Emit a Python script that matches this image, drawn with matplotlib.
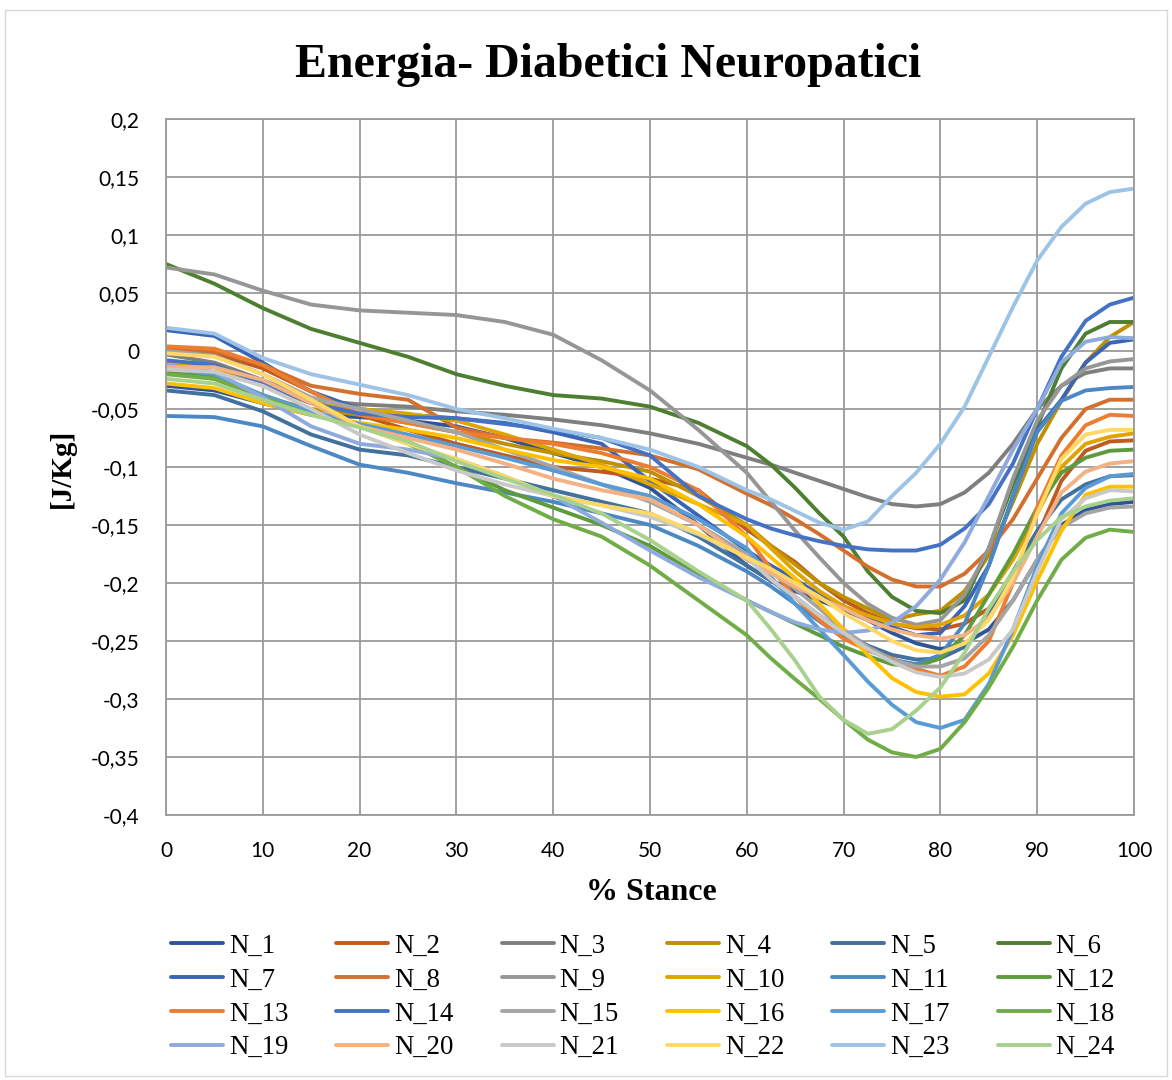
import matplotlib
matplotlib.use("Agg")
import matplotlib.pyplot as plt
from matplotlib.patches import Rectangle
from matplotlib.ticker import FixedLocator

# % of stance at which each curve is sampled
stance = [0, 5, 10, 15, 20, 25, 30, 35, 40, 45, 50, 55, 60,
          62.5, 65, 67.5, 70, 72.5, 75, 77.5, 80, 82.5, 85, 87.5, 90, 92.5, 95, 97.5, 100]

N_1 = [-0.030, -0.034, -0.045, -0.055, -0.057, -0.060, -0.065, -0.075, -0.088, -0.100, -0.118, -0.150, -0.185,
       -0.198, -0.207, -0.215, -0.223, -0.232, -0.243, -0.252, -0.257, -0.252, -0.240, -0.215, -0.180, -0.150, -0.137, -0.132, -0.130]
N_2 = [0.000, -0.002, -0.015, -0.035, -0.055, -0.068, -0.080, -0.090, -0.100, -0.104, -0.110, -0.120, -0.154,
       -0.168, -0.182, -0.200, -0.215, -0.226, -0.235, -0.239, -0.240, -0.235, -0.222, -0.195, -0.160, -0.112, -0.086, -0.078, -0.077]
N_3 = [-0.003, -0.010, -0.025, -0.042, -0.046, -0.048, -0.052, -0.055, -0.059, -0.064, -0.071, -0.080, -0.092,
       -0.098, -0.105, -0.112, -0.119, -0.126, -0.132, -0.134, -0.132, -0.122, -0.105, -0.080, -0.050, -0.030, -0.019, -0.015, -0.015]
N_4 = [-0.018, -0.024, -0.040, -0.050, -0.055, -0.062, -0.070, -0.080, -0.088, -0.095, -0.104, -0.125, -0.150,
       -0.168, -0.184, -0.200, -0.212, -0.222, -0.232, -0.227, -0.224, -0.207, -0.176, -0.130, -0.080, -0.043, -0.010, 0.012, 0.025]
N_5 = [-0.034, -0.038, -0.052, -0.072, -0.085, -0.090, -0.100, -0.110, -0.120, -0.130, -0.140, -0.160, -0.185,
       -0.198, -0.212, -0.228, -0.242, -0.254, -0.262, -0.266, -0.265, -0.255, -0.228, -0.190, -0.155, -0.128, -0.115, -0.108, -0.107]
N_6 = [0.075, 0.058, 0.037, 0.019, 0.007, -0.005, -0.020, -0.030, -0.038, -0.041, -0.048, -0.062, -0.082,
       -0.098, -0.118, -0.140, -0.160, -0.190, -0.212, -0.224, -0.226, -0.215, -0.170, -0.115, -0.065, -0.015, 0.015, 0.025, 0.025]
N_7 = [0.018, 0.013, -0.010, -0.035, -0.050, -0.055, -0.058, -0.062, -0.070, -0.080, -0.112, -0.142, -0.172,
       -0.185, -0.197, -0.210, -0.220, -0.230, -0.238, -0.245, -0.243, -0.220, -0.185, -0.125, -0.068, -0.042, -0.010, 0.007, 0.010]
N_8 = [0.002, 0.000, -0.012, -0.030, -0.037, -0.042, -0.066, -0.075, -0.079, -0.084, -0.090, -0.102, -0.123,
       -0.133, -0.145, -0.158, -0.172, -0.186, -0.197, -0.203, -0.203, -0.192, -0.172, -0.145, -0.110, -0.075, -0.050, -0.042, -0.042]
N_9 = [0.072, 0.066, 0.052, 0.040, 0.035, 0.033, 0.031, 0.025, 0.014, -0.008, -0.034, -0.068, -0.105,
       -0.130, -0.155, -0.178, -0.200, -0.218, -0.230, -0.236, -0.232, -0.210, -0.170, -0.110, -0.060, -0.030, -0.015, -0.009, -0.007]
N_10 = [-0.010, -0.014, -0.030, -0.045, -0.050, -0.054, -0.060, -0.072, -0.085, -0.098, -0.115, -0.132, -0.150,
        -0.170, -0.190, -0.207, -0.220, -0.228, -0.235, -0.238, -0.236, -0.228, -0.210, -0.180, -0.140, -0.100, -0.080, -0.074, -0.071]
N_11 = [-0.056, -0.057, -0.065, -0.082, -0.098, -0.105, -0.114, -0.122, -0.130, -0.140, -0.150, -0.168, -0.190,
        -0.203, -0.218, -0.233, -0.247, -0.258, -0.266, -0.270, -0.262, -0.235, -0.185, -0.126, -0.070, -0.043, -0.034, -0.032, -0.031]
N_12 = [-0.019, -0.022, -0.038, -0.052, -0.065, -0.078, -0.100, -0.120, -0.135, -0.150, -0.168, -0.193, -0.215,
        -0.225, -0.235, -0.245, -0.255, -0.263, -0.270, -0.272, -0.265, -0.245, -0.210, -0.175, -0.135, -0.105, -0.092, -0.086, -0.085]
N_13 = [0.004, 0.002, -0.012, -0.035, -0.055, -0.062, -0.070, -0.075, -0.080, -0.088, -0.100, -0.120, -0.160,
        -0.188, -0.212, -0.232, -0.248, -0.258, -0.265, -0.274, -0.280, -0.272, -0.250, -0.200, -0.135, -0.090, -0.064, -0.055, -0.056]
N_14 = [-0.008, -0.012, -0.028, -0.045, -0.054, -0.057, -0.058, -0.063, -0.068, -0.075, -0.090, -0.125, -0.145,
        -0.153, -0.159, -0.164, -0.168, -0.171, -0.172, -0.172, -0.167, -0.153, -0.132, -0.097, -0.050, -0.005, 0.026, 0.040, 0.046]
N_15 = [0.000, -0.004, -0.020, -0.040, -0.050, -0.060, -0.070, -0.085, -0.100, -0.115, -0.130, -0.150, -0.175,
        -0.190, -0.205, -0.222, -0.240, -0.255, -0.266, -0.272, -0.272, -0.265, -0.245, -0.215, -0.180, -0.152, -0.140, -0.135, -0.134]
N_16 = [-0.028, -0.032, -0.045, -0.055, -0.062, -0.068, -0.075, -0.085, -0.094, -0.100, -0.110, -0.132, -0.160,
        -0.178, -0.196, -0.218, -0.240, -0.262, -0.282, -0.294, -0.298, -0.296, -0.278, -0.245, -0.198, -0.155, -0.124, -0.117, -0.117]
N_17 = [-0.015, -0.020, -0.038, -0.052, -0.063, -0.072, -0.082, -0.092, -0.103, -0.115, -0.125, -0.145, -0.170,
        -0.195, -0.218, -0.240, -0.262, -0.285, -0.305, -0.320, -0.325, -0.318, -0.287, -0.240, -0.185, -0.140, -0.118, -0.108, -0.106]
N_18 = [-0.020, -0.024, -0.040, -0.055, -0.065, -0.080, -0.100, -0.125, -0.145, -0.160, -0.185, -0.215, -0.245,
        -0.265, -0.283, -0.300, -0.318, -0.335, -0.346, -0.350, -0.343, -0.320, -0.290, -0.255, -0.215, -0.180, -0.161, -0.154, -0.156]
N_19 = [-0.012, -0.018, -0.040, -0.065, -0.080, -0.085, -0.093, -0.108, -0.125, -0.148, -0.172, -0.195, -0.215,
        -0.225, -0.234, -0.240, -0.243, -0.241, -0.234, -0.220, -0.197, -0.165, -0.125, -0.085, -0.050, -0.010, 0.008, 0.012, 0.011]
N_20 = [-0.014, -0.014, -0.025, -0.045, -0.065, -0.075, -0.085, -0.097, -0.110, -0.120, -0.128, -0.150, -0.180,
        -0.192, -0.203, -0.213, -0.222, -0.232, -0.240, -0.245, -0.248, -0.245, -0.230, -0.200, -0.160, -0.122, -0.104, -0.097, -0.095]
N_21 = [-0.016, -0.018, -0.030, -0.050, -0.072, -0.088, -0.103, -0.115, -0.125, -0.133, -0.143, -0.158, -0.178,
        -0.197, -0.212, -0.228, -0.243, -0.257, -0.268, -0.277, -0.281, -0.278, -0.266, -0.240, -0.190, -0.145, -0.127, -0.120, -0.121]
N_22 = [-0.002, -0.005, -0.020, -0.042, -0.065, -0.080, -0.093, -0.108, -0.125, -0.133, -0.140, -0.157, -0.178,
        -0.188, -0.200, -0.212, -0.226, -0.238, -0.250, -0.258, -0.260, -0.252, -0.232, -0.195, -0.140, -0.093, -0.072, -0.068, -0.068]
N_23 = [0.020, 0.015, -0.006, -0.020, -0.029, -0.038, -0.050, -0.058, -0.067, -0.075, -0.085, -0.100, -0.120,
        -0.128, -0.138, -0.148, -0.154, -0.147, -0.125, -0.105, -0.080, -0.048, -0.005, 0.038, 0.078, 0.107, 0.127, 0.137, 0.140]
N_24 = [-0.024, -0.028, -0.042, -0.055, -0.066, -0.078, -0.095, -0.110, -0.124, -0.140, -0.163, -0.190, -0.215,
        -0.240, -0.267, -0.298, -0.318, -0.330, -0.326, -0.310, -0.290, -0.260, -0.222, -0.190, -0.163, -0.143, -0.134, -0.129, -0.127]

series_names = [f"N_{i}" for i in range(1, 25)]
series_values = [N_1, N_2, N_3, N_4, N_5, N_6, N_7, N_8, N_9, N_10, N_11, N_12,
                 N_13, N_14, N_15, N_16, N_17, N_18, N_19, N_20, N_21, N_22, N_23, N_24]
series_colors = ["#2F5597", "#BE5B1E", "#7F7F7F", "#BF9000", "#41719C", "#4E7F31",
                 "#3A65B5", "#D4702E", "#969696", "#E0A400", "#4C89C4", "#5E9A3E",
                 "#ED7D31", "#4472C4", "#A5A5A5", "#FFC000", "#5B9BD5", "#70AD47",
                 "#8FAADC", "#F4B183", "#C9C9C9", "#FFD966", "#9DC3E6", "#A9D18E"]

y_ticks = [0.2, 0.15, 0.1, 0.05, 0.0, -0.05, -0.1, -0.15, -0.2, -0.25, -0.3, -0.35, -0.4]
y_tick_labels = ["0,2", "0,15", "0,1", "0,05", "0", "-0,05", "-0,1", "-0,15", "-0,2",
                 "-0,25", "-0,3", "-0,35", "-0,4"]
x_ticks = [0, 10, 20, 30, 40, 50, 60, 70, 80, 90, 100]

W, H = 1172, 1080
fig = plt.figure(figsize=(W / 100, H / 100), dpi=100)
fig.patch.set_facecolor("white")
fig.add_artist(Rectangle((0.004, 0.004), 0.992, 0.987, transform=fig.transFigure,
                         fill=False, edgecolor="#D9D9D9", linewidth=1.0))

ax = fig.add_axes([166 / W, 1 - 815 / H, (1134 - 166) / W, (815 - 119) / H])
grid_color = "#9A9A9A"

for name, vals, col in zip(series_names, series_values, series_colors):
    ax.plot(stance, vals, color=col, linewidth=2.8, label=name,
            solid_capstyle="round", solid_joinstyle="round")

ax.set_xlim(0, 100)
ax.set_ylim(-0.4, 0.2)
ax.xaxis.set_major_locator(FixedLocator(x_ticks))
ax.yaxis.set_major_locator(FixedLocator(y_ticks))
ax.set_yticklabels(y_tick_labels)
ax.set_xticklabels([str(t) for t in x_ticks])
ax.grid(True, color=grid_color, linewidth=1.3)
ax.set_axisbelow(True)
for sp in ax.spines.values():
    sp.set_color(grid_color)
    sp.set_linewidth(1.3)
ax.tick_params(length=0, labelsize=15, labelcolor="#000000", pad=19)
for lab in ax.get_xticklabels() + ax.get_yticklabels():
    lab.set_fontfamily("Lato")

fig.text(608 / W, 1 - 65 / H, "Energia- Diabetici Neuropatici", ha="center", va="center",
         fontsize=34.5, fontweight="bold", family="Liberation Serif")
fig.text(62 / W, 1 - 468 / H, "[J/Kg]", ha="center", va="center", rotation=90,
         fontsize=21, fontweight="bold", family="Liberation Serif")
fig.text(651 / W, 1 - 893 / H, "% Stance", ha="center", va="center",
         fontsize=23, fontweight="bold", family="Liberation Serif")

handles, labels = ax.get_legend_handles_labels()
order = [r * 6 + c for c in range(6) for r in range(4)]
leg = fig.legend([handles[i] for i in order], [labels[i] for i in order],
                 loc="center", bbox_to_anchor=(643 / W, 1 - 997 / H), ncol=6,
                 frameon=False, prop={"family": "Liberation Serif", "size": 19.3},
                 handlelength=1.94, handletextpad=0.22, columnspacing=1.79,
                 labelspacing=0.33, borderpad=0.0)

fig.savefig("out.png", dpi=100, facecolor="white")
